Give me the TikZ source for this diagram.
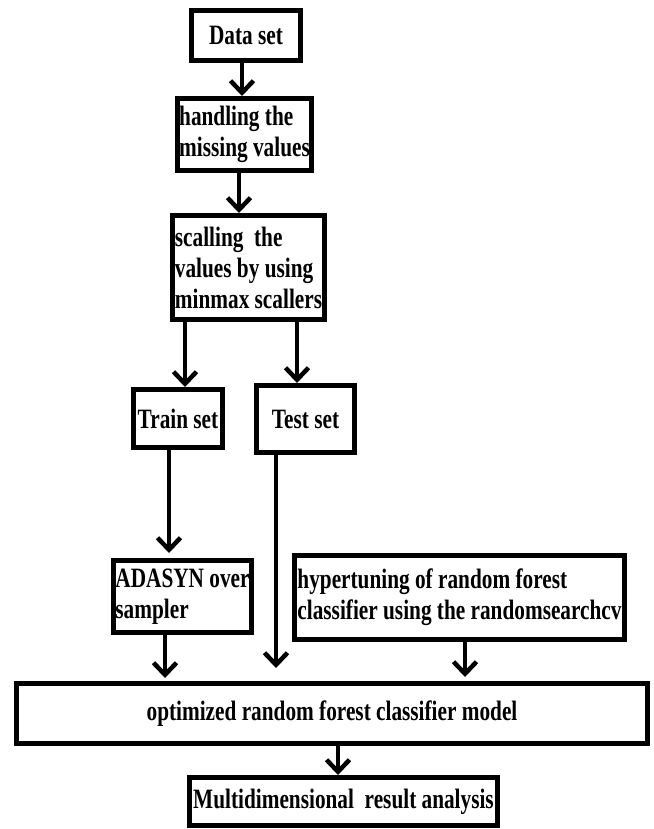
\documentclass[tikz,border=0pt]{standalone}
\usepackage{fontspec}
\setmainfont[FakeStretch=0.76]{Liberation Serif}
\usetikzlibrary{
	arrows.meta
}

\begin{document}
\begin{tikzpicture}[x=1pt,y=-1pt,
	box/.style={draw,line width=5pt,inner sep=2pt,align=left,
		font=\fontsize{28}{31}\selectfont\bfseries},
	flow/.style={line width=4.5pt,-{Straight Barb[length=12pt,width=23pt]}}
]
	\useasboundingbox (0,0) rectangle (653,829);

	\node [box,minimum width=109pt,minimum height=50pt] (data)     at (246,35.5)   {Data set};
	\node [box,minimum width=132pt,minimum height=72pt] (handling) at (244.5,134.5) {handling the\\missing values};
	\node [box,minimum width=152pt,minimum height=104pt] (scaling)  at (248.5,267.5) {scalling\ \ the\\values by using\\minmax scallers};
	\node [box,minimum width=89pt,minimum height=58pt]  (train)    at (178,418.5)  {Train set};
	\node [box,minimum width=98pt,minimum height=67pt]  (test)     at (305.5,419)  {Test set};
	\node [box,minimum width=136pt,minimum height=72pt] (adasyn)   at (182.5,596.5) {ADASYN over\\sampler};
	\node [box,minimum width=330pt,minimum height=84pt] (hyper)    at (459.5,597.5) {hypertuning of random forest\\classifier using the randomsearchcv};
	\node [box,minimum width=631pt,minimum height=60pt] (model)    at (332,713.5)  {optimized random forest classifier model};
	\node [box,minimum width=308pt,minimum height=48pt] (analysis) at (343.5,801.5) {Multidimensional\ \ result analysis};

	\draw [flow] ([xshift=-4pt]data.south)        -- ([xshift=-4pt]data.south |- handling.north);
	\draw [flow] ([xshift=-5.5pt]handling.south)  -- ([xshift=-5.5pt]handling.south |- scaling.north);
	\draw [flow] ([xshift=-63.5pt]scaling.south)  -- ([xshift=-63.5pt]scaling.south |- train.north);
	\draw [flow] ([xshift=48.5pt]scaling.south)   -- ([xshift=48.5pt]scaling.south |- test.north);
	\draw [flow] ([xshift=-9pt]train.south)       -- ([xshift=-9pt,yshift=5pt]train.south |- adasyn.north);
	\draw [flow] ([xshift=-29.5pt]test.south)     -- ([xshift=-29.5pt,yshift=13pt]test.south |- model.north);
	\draw [flow] ([xshift=-17.5pt]adasyn.south)   -- ([xshift=-17.5pt,yshift=3pt]adasyn.south |- model.north);
	\draw [flow] ([xshift=5.5pt]hyper.south)      -- ([xshift=5.5pt,yshift=4pt]hyper.south |- model.north);
	\draw [flow] ([xshift=6pt]model.south)        -- ([xshift=6pt]model.south |- analysis.north);
\end{tikzpicture}
\end{document}
